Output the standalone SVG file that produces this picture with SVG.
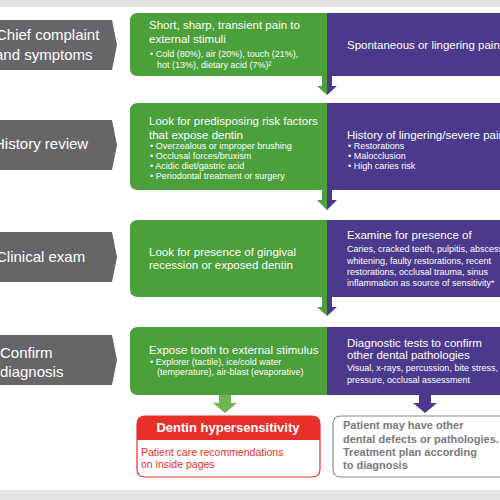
<svg xmlns="http://www.w3.org/2000/svg" width="500" height="500" viewBox="0 0 500 500">
<defs>
<style>
.band{fill:#e3e3e3}
.step{fill:#666668}
.green{fill:#4ba03b}
.purple{fill:#4b3a8c}
.lbl{font-family:"Liberation Sans",Arial,sans-serif;font-size:15px;fill:#ffffff}
.h{font-family:"Liberation Sans",Arial,sans-serif;font-size:11.5px;fill:#ffffff}
.s{font-family:"Liberation Sans",Arial,sans-serif;font-size:9px;fill:#ffffff}
.ga{fill:#6fb552}
</style>
</defs>
<rect width="500" height="500" fill="#ffffff"/>
<rect class="band" x="0" y="0" width="500" height="7"/>
<rect class="band" x="0" y="490" width="500" height="10"/>

<g id="step1">
<polygon class="step" points="0,20 112,20 117,45 112,70 0,70"/>
<text class="lbl" x="-4" y="40">Chief complaint</text>
<text class="lbl" x="-5" y="60">and symptoms</text>
</g>
<g id="step2">
<polygon class="step" points="0,120 112,120 117,145 112,170 0,170"/>
<text class="lbl" x="-6" y="149">History review</text>
</g>
<g id="step3">
<polygon class="step" points="0,232 112,232 117,257 112,282 0,282"/>
<text class="lbl" x="-4" y="262">Clinical exam</text>
</g>
<g id="step4">
<polygon class="step" points="0,335 112,335 117,360 112,385 0,385"/>
<text class="lbl" x="0" y="358">Confirm</text>
<text class="lbl" x="0" y="377">diagnosis</text>
</g>

<g id="green1">
<path class="green" d="M138,13 H327 V76 H138 Q130,76 130,68 V21 Q130,13 138,13 Z"/>
<text class="h" x="149" y="29">Short, sharp, transient pain to</text>
<text class="h" x="149" y="43">external stimuli</text>
<text class="s" x="150" y="57">• Cold (80%), air (20%), touch (21%),</text>
<text class="s" x="157" y="68">hot (13%), dietary acid (7%)²</text>
</g>
<g id="purple1">
<rect class="purple" x="327" y="13" width="173" height="63"/>
<text class="h" x="347" y="49">Spontaneous or lingering pain</text>
</g>

<g id="green2">
<path class="green" d="M138,103 H327 V190 H138 Q130,190 130,182 V111 Q130,103 138,103 Z"/>
<text class="h" x="149" y="125">Look for predisposing risk factors</text>
<text class="h" x="149" y="139">that expose dentin</text>
<text class="s" x="150" y="149">• Overzealous or improper brushing</text>
<text class="s" x="150" y="159">• Occlusal forces/bruxism</text>
<text class="s" x="150" y="169">• Acidic diet/gastric acid</text>
<text class="s" x="150" y="179">• Periodontal treatment or surgery</text>
</g>
<g id="purple2">
<rect class="purple" x="327" y="103" width="173" height="87"/>
<text class="h" x="347" y="139">History of lingering/severe pain</text>
<text class="s" x="348" y="149">• Restorations</text>
<text class="s" x="348" y="159">• Malocclusion</text>
<text class="s" x="348" y="169">• High caries risk</text>
</g>

<g id="green3">
<path class="green" d="M138,220 H327 V297 H138 Q130,297 130,289 V228 Q130,220 138,220 Z"/>
<text class="h" x="149" y="256">Look for presence of gingival</text>
<text class="h" x="149" y="269">recession or exposed dentin</text>
</g>
<g id="purple3">
<rect class="purple" x="327" y="220" width="173" height="77"/>
<text class="h" x="347" y="239">Examine for presence of</text>
<text class="s" x="347" y="252">Caries, cracked teeth, pulpitis, abscess,</text>
<text class="s" x="347" y="264">whitening, faulty restorations, recent</text>
<text class="s" x="347" y="275">restorations, occlusal trauma, sinus</text>
<text class="s" x="347" y="286">inflammation as source of sensitivity*</text>
</g>

<g id="green4">
<path class="green" d="M138,327 H327 V395 H138 Q130,395 130,387 V335 Q130,327 138,327 Z"/>
<text class="h" x="149" y="354">Expose tooth to external stimulus</text>
<text class="s" x="150" y="365">• Explorer (tactile), ice/cold water</text>
<text class="s" x="157" y="375">(temperature), air-blast (evaporative)</text>
</g>
<g id="purple4">
<rect class="purple" x="327" y="327" width="173" height="68"/>
<text class="h" x="347" y="347">Diagnostic tests to confirm</text>
<text class="h" x="347" y="359">other dental pathologies</text>
<text class="s" x="347" y="371">Visual, x-rays, percussion, bite stress,</text>
<text class="s" x="347" y="383">pressure, occlusal assessment</text>
</g>

<g id="result-dh">
<path d="M145,416 H312 Q320,416 320,424 V469 Q320,477 312,477 H145 Q137,477 137,469 V424 Q137,416 145,416 Z" fill="#ffffff" stroke="#e8302b" stroke-width="1.2"/>
<path d="M145,416 H312 Q320,416 320,424 V440 H137 V424 Q137,416 145,416 Z" fill="#e8302b"/>
<text x="228" y="432" text-anchor="middle" font-family="Liberation Sans,Arial,sans-serif" font-size="13" font-weight="bold" fill="#ffffff">Dentin hypersensitivity</text>
<text x="141" y="456" font-family="Liberation Sans,Arial,sans-serif" font-size="10.5" fill="#e8302b">Patient care recommendations</text>
<text x="141" y="468" font-family="Liberation Sans,Arial,sans-serif" font-size="10.5" fill="#e8302b">on inside pages</text>
</g>
<g id="result-other">
<path d="M341,416 H510 V477 H341 Q333,477 333,469 V424 Q333,416 341,416 Z" fill="#ffffff" stroke="#8a8a8a" stroke-width="1.2"/>
<text x="343" y="429" font-family="Liberation Sans,Arial,sans-serif" font-size="11" font-weight="bold" fill="#7a7a7a">Patient may have other</text>
<text x="343" y="443" font-family="Liberation Sans,Arial,sans-serif" font-size="11" font-weight="bold" fill="#7a7a7a">dental defects or pathologies.</text>
<text x="343" y="456" font-family="Liberation Sans,Arial,sans-serif" font-size="11" font-weight="bold" fill="#7a7a7a">Treatment plan according</text>
<text x="343" y="469" font-family="Liberation Sans,Arial,sans-serif" font-size="11" font-weight="bold" fill="#7a7a7a">to diagnosis</text>
</g>

<g id="connectors">
<polygon class="green" points="322,76 327,76 327,95 317,86 322,86"/>
<polygon class="purple" points="332,76 327,76 327,95 337,86 332,86"/>
<polygon class="green" points="322,190 327,190 327,210 317,200 322,200"/>
<polygon class="purple" points="332,190 327,190 327,210 337,200 332,200"/>
<polygon class="green" points="322,297 327,297 327,316 317,307 322,307"/>
<polygon class="purple" points="332,297 327,297 327,316 337,307 332,307"/>
<polygon class="ga" points="219,395 231,395 231,403 237,403 225,413 213,403 219,403"/>
<polygon class="purple" points="419,395 431,395 431,403 437,403 425,413 413,403 419,403"/>
</g>
</svg>
